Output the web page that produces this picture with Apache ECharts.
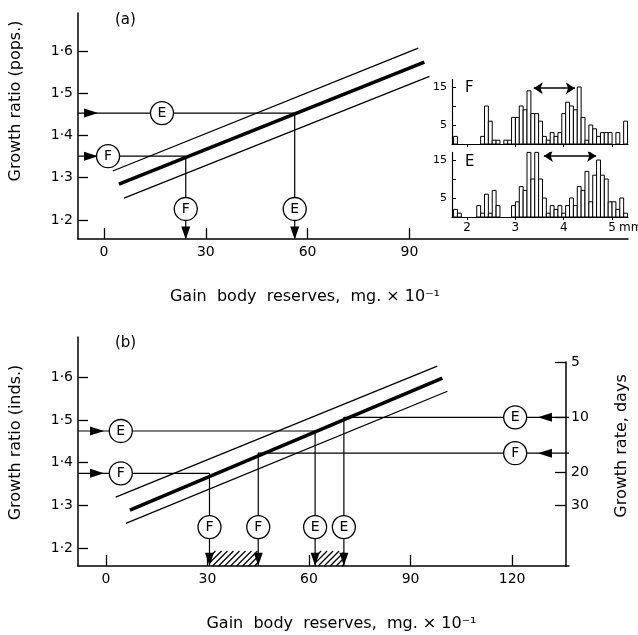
<!DOCTYPE html>
<html>
<head>
<meta charset="utf-8">
<script src="https://cdn.jsdelivr.net/npm/echarts@6/dist/echarts.min.js"></script>
<style>
html, body { margin: 0; padding: 0; background: #fff; }
#chart { width: 638px; height: 635px; }
</style>
</head>
<body>
<div id="chart"></div>
<script>
// tick labels
const gainTicksA = [0, 30, 60, 90];
const gainTicksB = [0, 30, 60, 90, 120];
const ratioTicks = [1.2, 1.3, 1.4, 1.5, 1.6];
const daysTicks = [5, 10, 20, 30];
const sizeTicks = [2, 3, 4, 5];
const countTicks = [5, 10, 15];

// panel (a): growth ratio (pops.) against gain in body reserves
const aUpper = [[2.6, 1.316], [92.6, 1.607]];
const aMid = [[4.4, 1.285], [94.4, 1.574]];
const aLower = [[5.9, 1.252], [95.9, 1.540]];
const aGuideE = [[-7.65, 1.453], [56.2, 1.453], [56.2, 1.155]];
const aGuideF = [[-7.65, 1.351], [24.1, 1.351], [24.1, 1.155]];
const aCircleE = [[17.1, 1.453], [56.2, 1.226]];
const aCircleF = [[1.2, 1.351], [24.1, 1.226]];
const aArrowRight = [[-3.8, 1.453], [-3.8, 1.351]];
const aArrowDown = [[56.2, 1.169], [24.1, 1.169]];

// panel (b): growth ratio (inds.)
const bUpper = [[2.9, 1.319], [97.9, 1.626]];
const bMid = [[7.1, 1.289], [99.4, 1.598]];
const bLower = [[5.9, 1.258], [100.9, 1.567]];
const bGuideLeftE = [[-8.24, 1.474], [61.8, 1.474], [61.8, 1.158]];
const bGuideLeftF = [[-8.24, 1.375], [30.6, 1.375], [30.6, 1.158]];
const bGuideRightE = [[136.8, 1.506], [70.3, 1.506], [70.3, 1.158]];
const bGuideRightF = [[136.8, 1.422], [45, 1.422], [45, 1.158]];
const bCircleE = [[4.4, 1.474], [120.9, 1.506], [61.8, 1.249], [70.3, 1.249]];
const bCircleF = [[4.4, 1.375], [120.9, 1.422], [30.6, 1.249], [45, 1.249]];
const bArrowRight = [[-2.6, 1.474], [-2.6, 1.375]];
const bArrowLeft = [[129.7, 1.506], [129.7, 1.422]];
const bArrowDown = [[30.6, 1.174], [45, 1.174], [61.8, 1.174], [70.3, 1.174]];
const bHatch = [[30.6, 45, 1.158, 1.193], [61.8, 70.3, 1.158, 1.193]];

// inset histograms (size, mm)
const binCenters = [1.76, 1.84, 1.92, 2.00, 2.08, 2.16, 2.24, 2.32, 2.40, 2.48, 2.56, 2.64, 2.72, 2.80, 2.88,
  2.96, 3.04, 3.12, 3.20, 3.28, 3.36, 3.44, 3.52, 3.60, 3.68, 3.76, 3.84, 3.92, 4.00, 4.08,
  4.16, 4.24, 4.32, 4.40, 4.48, 4.56, 4.64, 4.72, 4.80, 4.88, 4.96, 5.04, 5.12, 5.20, 5.28];
const countsF = [2, 0, 0, 0, 0, 0, 0, 2, 10, 6, 1, 1, 0, 1, 1,
  7, 7, 10, 9, 14, 8, 8, 6, 2, 1, 3, 2, 3, 8, 11,
  10, 9, 15, 7, 1, 5, 4, 2, 3, 3, 3, 0, 3, 0, 6];
const countsE = [2, 1, 0, 0, 0, 0, 3, 1, 6, 1, 7, 3, 0, 0, 0,
  3, 4, 8, 7, 17, 10, 17, 10, 5, 1, 3, 2, 3, 1, 3,
  5, 3, 8, 7, 12, 4, 11, 15, 11, 10, 4, 4, 2, 5, 1];
const binWidth = 0.08;
const rangeF = [[3.38, 14.7], [4.23, 14.7]];
const rangeE = [[3.59, 16.05], [4.67, 16.05]];

const FONT = 'DejaVu Sans';
const black = '#000';

const target = document.getElementById('chart');
const mChart = echarts.init(target);

const ratioLabel = (v) => v.toFixed(1).replace('.', '·');

// main axes shared style
const mainX = (grid, min, max, ticks, name, pad) => ({
  gridIndex: grid,
  type: 'value',
  min: min,
  max: max,
  splitLine: { show: false },
  axisLine: { onZero: false, lineStyle: { color: black, width: 1.5 } },
  axisTick: { inside: true, length: 11, customValues: ticks, lineStyle: { color: black, width: 1.3 } },
  axisLabel: { customValues: ticks, margin: 6, color: black, fontSize: 14, fontFamily: FONT },
  name: name,
  nameLocation: 'middle',
  nameGap: 50,
  nameTextStyle: { color: black, fontSize: 16, fontFamily: FONT, padding: pad },
});
const mainY = (grid, min, max, name, pad) => ({
  gridIndex: grid,
  type: 'value',
  min: min,
  max: max,
  splitLine: { show: false },
  axisLine: { onZero: false, lineStyle: { color: black, width: 1.5 } },
  axisTick: { inside: true, length: 10, customValues: ratioTicks, lineStyle: { color: black, width: 1.3 } },
  axisLabel: { customValues: ratioTicks, margin: 5, color: black, fontSize: 14, fontFamily: FONT, formatter: ratioLabel },
  name: name,
  nameLocation: 'middle',
  nameGap: 54,
  nameTextStyle: { color: black, fontSize: 16, fontFamily: FONT, padding: pad },
});
const histX = (grid, showLabel) => ({
  gridIndex: grid,
  type: 'value',
  min: 1.6875,
  max: 5.33,
  splitLine: { show: false },
  axisLine: { onZero: false, lineStyle: { color: black, width: 1.2 } },
  axisTick: { length: 3, customValues: sizeTicks, lineStyle: { color: black } },
  axisLabel: { show: showLabel, customValues: sizeTicks, margin: 5, color: black, fontSize: 12, fontFamily: FONT },
});
const histY = (grid) => ({
  gridIndex: grid,
  type: 'value',
  min: 0,
  max: 17,
  splitLine: { show: false },
  axisLine: { onZero: false, lineStyle: { color: black, width: 1.2 } },
  axisTick: { inside: true, length: 4, customValues: countTicks, lineStyle: { color: black } },
  axisLabel: { customValues: countTicks, margin: 5, color: black, fontSize: 11, fontFamily: FONT,
    formatter: (v) => (v === 10 ? '' : v) },
});

// series helpers
const seg = (data, axis, width) => ({
  type: 'line', xAxisIndex: axis, yAxisIndex: axis, data: data,
  symbol: 'none', silent: true, z: 2,
  lineStyle: { color: black, width: width },
});
const circles = (data, axis, letter) => ({
  type: 'scatter', xAxisIndex: axis, yAxisIndex: axis, data: data,
  symbol: 'circle', symbolSize: 23, silent: true, z: 5,
  itemStyle: { color: '#fff', borderColor: black, borderWidth: 1.3, opacity: 1 },
  label: { show: true, position: 'inside', formatter: letter, color: black, fontSize: 14, fontFamily: FONT },
});
const arrows = (data, axis, rotate, size) => ({
  type: 'scatter', xAxisIndex: axis, yAxisIndex: axis, data: data,
  symbol: 'triangle', symbolSize: size, symbolRotate: rotate, silent: true, z: 4,
  itemStyle: { color: black, opacity: 1 },
});
const hist = (counts, axis) => ({
  type: 'custom', xAxisIndex: axis, yAxisIndex: axis, silent: true, z: 3,
  data: binCenters.map((c, i) => [c, counts[i]]).filter((d) => d[1] > 0),
  renderItem: (params, api) => {
    const p0 = api.coord([api.value(0) - binWidth / 2, api.value(1)]);
    const p1 = api.coord([api.value(0) + binWidth / 2, 0]);
    return {
      type: 'rect',
      shape: { x: p0[0], y: p0[1], width: p1[0] - p0[0], height: p1[1] - p0[1] },
      style: { fill: '#fff', stroke: black, lineWidth: 1 },
    };
  },
});
const doubleArrow = (coords, axis) => ({
  type: 'lines', coordinateSystem: 'cartesian2d', xAxisIndex: axis, yAxisIndex: axis,
  silent: true, z: 4, symbol: ['arrow', 'arrow'], symbolSize: 9,
  lineStyle: { color: black, width: 1.5, opacity: 1 },
  data: [{ coords: coords }],
});

const renderChart = () => {
  const options = {
    animation: false,
    backgroundColor: '#fff',
    grid: [
      { left: 77, top: 13, width: 551, height: 226 },
      { left: 76, top: 337, width: 493, height: 229 },
      { left: 76, top: 362, width: 493, height: 204 },
      { left: 452, top: 79.4, width: 176, height: 64.6 },
      { left: 452, top: 152.4, width: 176, height: 64.6 },
    ],
    xAxis: [
      mainX(0, -7.65, 154.4, gainTicksA, 'Gain  body  reserves,  mg. × 10⁻¹', [0, 96, 0, 0]),
      mainX(1, -8.24, 136.8, gainTicksB, 'Gain  body  reserves,  mg. × 10⁻¹', [0, 0, 0, 36]),
      { gridIndex: 2, type: 'value', min: -8.24, max: 136.8, show: false },
      histX(3, false),
      histX(4, true),
    ],
    yAxis: [
      mainY(0, 1.155, 1.690, 'Growth ratio (pops.)', [0, 0, 0, 50]),
      mainY(1, 1.158, 1.694, 'Growth ratio (inds.)', [0, 0, 0, 18]),
      {
        gridIndex: 2,
        type: 'value',
        position: 'right',
        inverse: true,
        min: Math.log10(5),
        max: 1.81,
        splitLine: { show: false },
        axisLine: { onZero: false, lineStyle: { color: black, width: 1.5 } },
        axisTick: { inside: true, length: 11, customValues: daysTicks.map(Math.log10), lineStyle: { color: black, width: 1.3 } },
        axisLabel: { customValues: daysTicks.map(Math.log10), margin: 5, color: black, fontSize: 14, fontFamily: FONT,
          formatter: (v) => Math.round(Math.pow(10, v)) },
        name: 'Growth rate, days',
        nameLocation: 'middle',
        nameGap: 48,
        nameTextStyle: { color: black, fontSize: 16, fontFamily: FONT, padding: [0, 0, 0, 36] },
      },
      histY(3),
      histY(4),
    ],
    graphic: [
      { type: 'text', left: 115, top: 13, style: { text: '(a)', font: '15px "DejaVu Sans"', fill: black } },
      { type: 'text', left: 115, top: 336, style: { text: '(b)', font: '15px "DejaVu Sans"', fill: black } },
      { type: 'text', left: 465, top: 81, style: { text: 'F', font: '15px "DejaVu Sans"', fill: black } },
      { type: 'text', left: 465, top: 155, style: { text: 'E', font: '15px "DejaVu Sans"', fill: black } },
      { type: 'text', left: 619, top: 222, style: { text: 'mm', font: '12px "DejaVu Sans"', fill: black } },
    ],
    series: [
      // panel (a)
      seg(aUpper, 0, 1.3),
      seg(aLower, 0, 1.3),
      seg(aMid, 0, 3.5),
      seg(aGuideE, 0, 1.2),
      seg(aGuideF, 0, 1.2),
      arrows(aArrowRight, 0, -90, [9, 14]),
      arrows(aArrowDown, 0, 180, [9, 13]),
      circles(aCircleE, 0, 'E'),
      circles(aCircleF, 0, 'F'),
      // panel (b)
      seg(bUpper, 1, 1.3),
      seg(bLower, 1, 1.3),
      seg(bMid, 1, 3.5),
      seg(bGuideLeftE, 1, 1.2),
      seg(bGuideLeftF, 1, 1.2),
      seg(bGuideRightE, 1, 1.2),
      seg(bGuideRightF, 1, 1.2),
      {
        type: 'custom', xAxisIndex: 1, yAxisIndex: 1, silent: true, z: 3,
        data: bHatch,
        encode: { x: [0, 1], y: [2, 3] },
        renderItem: (params, api) => {
          const p0 = api.coord([api.value(0), api.value(3)]);
          const p1 = api.coord([api.value(1), api.value(2)]);
          const L = p0[0], T = p0[1], R = p1[0], B = p1[1];
          const children = [];
          for (let c = L + T; c <= R + B; c += 6) {
            const xa = Math.max(L, c - B);
            const xb = Math.min(R, c - T);
            if (xb > xa) {
              children.push({
                type: 'line',
                shape: { x1: xa, y1: c - xa, x2: xb, y2: c - xb },
                style: { stroke: black, lineWidth: 1.2 },
              });
            }
          }
          return { type: 'group', children: children };
        },
      },
      arrows(bArrowRight, 1, -90, [9, 14]),
      arrows(bArrowLeft, 1, 90, [9, 14]),
      arrows(bArrowDown, 1, 180, [9, 13]),
      circles(bCircleE, 1, 'E'),
      circles(bCircleF, 1, 'F'),
      // inset histograms
      hist(countsF, 3),
      hist(countsE, 4),
      doubleArrow(rangeF, 3),
      doubleArrow(rangeE, 4),
    ],
  };
  mChart.setOption(options);
};
renderChart();
</script>
</body>
</html>
